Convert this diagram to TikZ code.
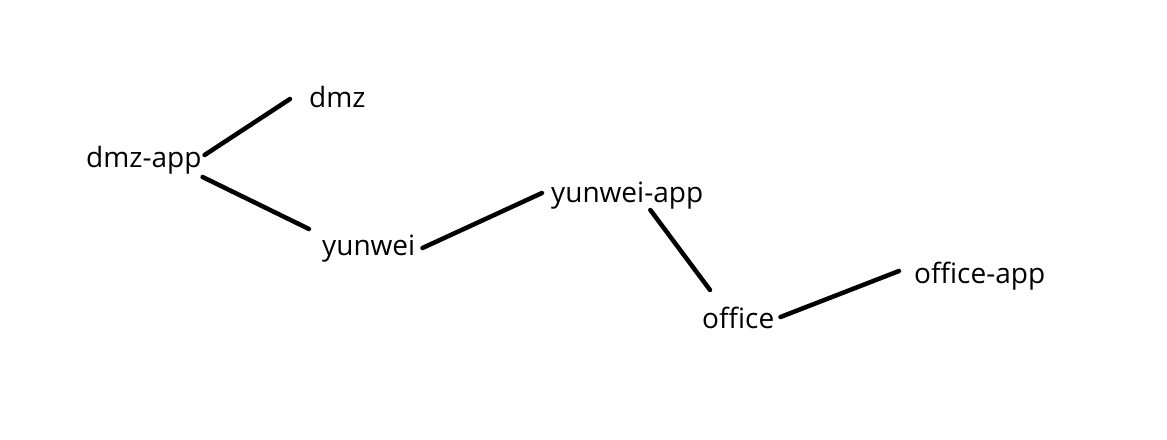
\documentclass[tikz,border=0pt]{standalone}
\usepackage{fontspec}
\setmainfont{Open Sans}
\usepackage{tikz}

\begin{document}
\begin{tikzpicture}[x=1pt, y=-1pt, every node/.style={font=\fontsize{28}{32}\selectfont, inner sep=0pt, anchor=base west}, link/.style={line width=4.5pt, line cap=round, black}]
\useasboundingbox (0,0) rectangle (1167,439);
\node (dmz) at (309,107) {dmz};
\node (dmzapp) at (86,167) {dmz-app};
\node (yunwei) at (322,255) {yunwei};
\node (yunweiapp) at (551,202) {yunwei-app};
\node (office) at (702,328) {office};
\node (officeapp) at (914,283) {office-app};
\draw[link] ([shift={(3pt,12pt)}]dmzapp.base east) -- ([shift={(-19pt,8pt)}]dmz.base west);
\draw[link] ([shift={(1pt,-10pt)}]dmzapp.base east) -- ([shift={(-13pt,26pt)}]yunwei.base west);
\draw[link] ([shift={(7pt,7pt)}]yunwei.base east) -- ([shift={(-9pt,9pt)}]yunweiapp.base west);
\draw[link] ([shift={(-53pt,-8pt)}]yunweiapp.base east) -- ([shift={(8pt,38pt)}]office.base west);
\draw[link] ([shift={(6pt,11pt)}]office.base east) -- ([shift={(-15pt,12pt)}]officeapp.base west);
\end{tikzpicture}
\end{document}
